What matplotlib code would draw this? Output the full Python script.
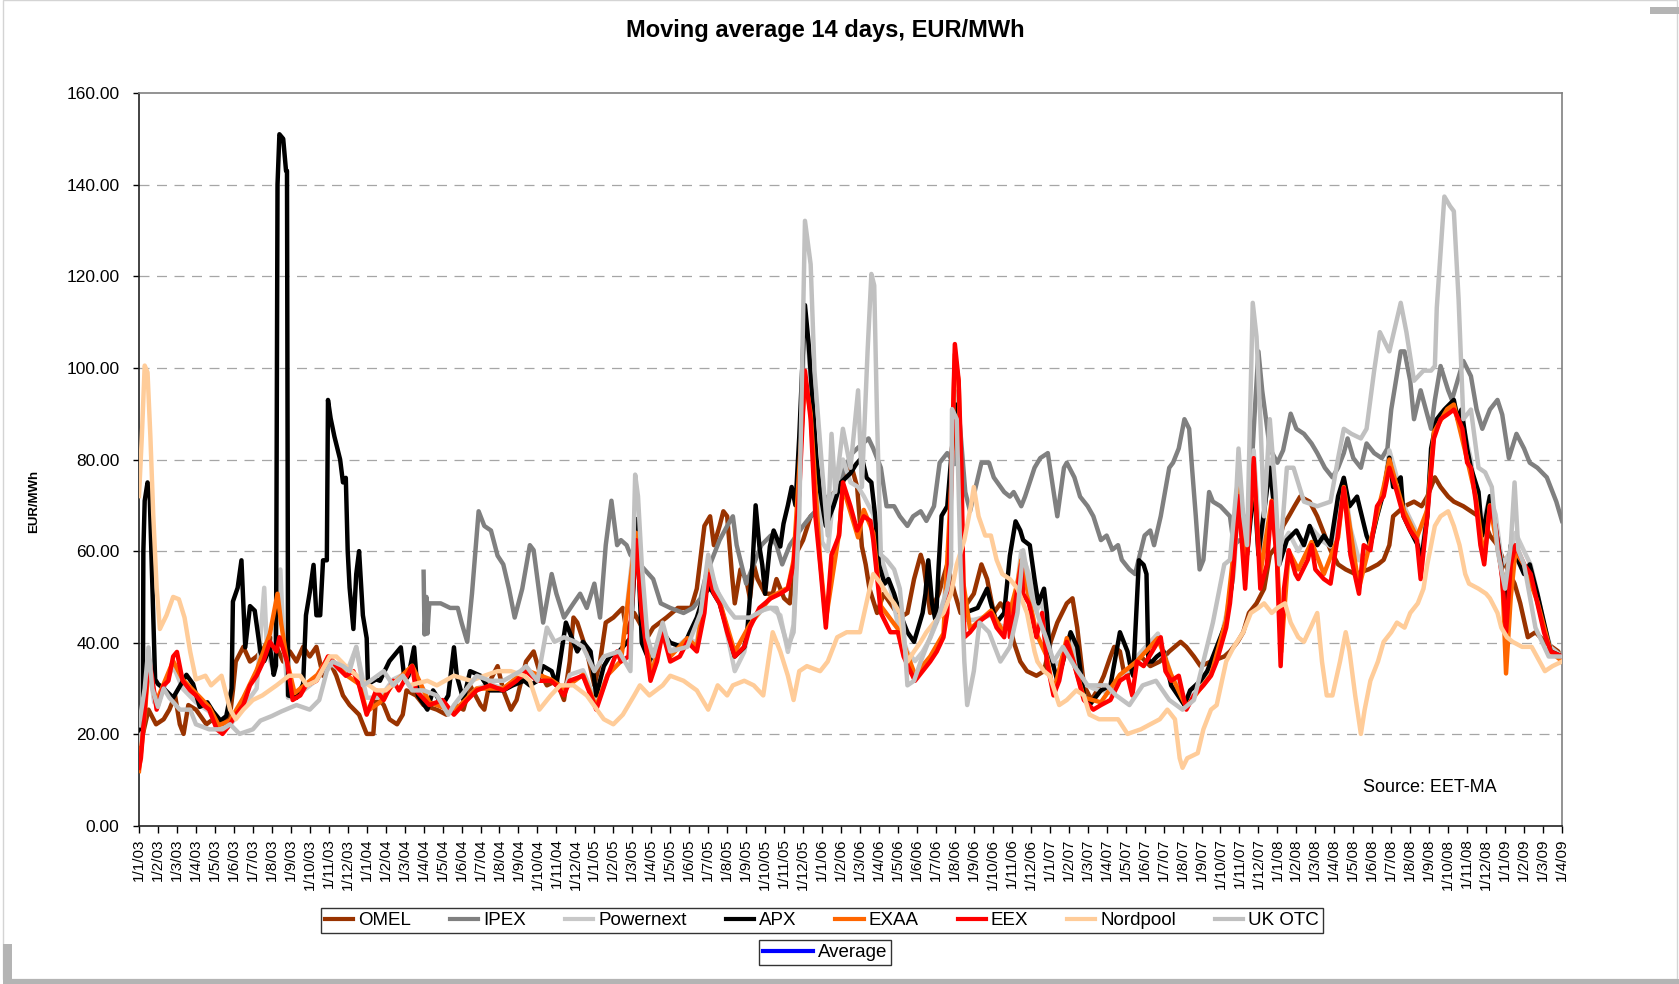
import matplotlib
matplotlib.use("Agg")
import matplotlib.pyplot as plt
from matplotlib.lines import Line2D
from matplotlib.patches import Rectangle

# ---------------- data (x = months since 1/1/03, y = EUR/MWh) ----------------
month_ticks = list(range(76))
tick_labels = [f"1/{i % 12 + 1}/{3 + i // 12:02d}" for i in month_ticks]

omel = [(0,16.9),(0.2,20),(0.5,25.4),(0.9,22.2),(1.3,23.3),(1.6,25.4),(1.9,28.5),(2.15,22.2),(2.35,20.1),(2.6,26.4),(3.0,25.4),(3.55,22.2),(3.9,23.3),(4.45,22.2),(4.8,24.3),(4.95,29.6),(5.1,35.9),(5.5,39.1),(5.85,35.9),(6.2,37),(6.55,38.6),(6.9,41.2),(7.25,39.1),(7.6,35.9),(7.95,38.1),(8.3,35.9),(8.65,39.1),(9.0,37),(9.35,39.1),(9.7,32.8),(10.05,35.9),(10.4,32.8),(10.75,28.5),(11.1,26.4),(11.6,24.3),(12.0,20.1),(12.35,20.1),(12.5,28.5),(12.9,26.4),(13.2,23.3),(13.6,22.2),(13.9,24.3),(14.1,29.6),(14.6,28.5),(15.0,26.4),(15.7,25.4),(16.2,24.3),(16.7,26.4),(17.1,25.4),(17.45,30.7),(18.0,26.4),(18.2,25.4),(18.5,31.7),(18.9,34.9),(19.2,29.6),(19.6,25.4),(19.9,27.5),(20.4,35.9),(20.8,38.1),(21.1,33.8),(21.5,30.7),(22.0,31.7),(22.4,27.5),(22.7,35.9),(22.9,45.5),(23.1,44.4),(23.6,38.1),(24.0,30.7),(24.3,35.9),(24.6,44.4),(25.0,45.5),(25.5,47.6),(25.7,42.3),(26.1,46.5),(26.8,41.2),(27.1,43.3),(27.8,45.5),(28.4,47.6),(29.1,47.6),(29.4,51.8),(29.8,65.5),(30.1,67.6),(30.3,61.3),(30.6,65.5),(30.8,68.7),(31.0,67.6),(31.25,55),(31.4,48.6),(31.7,56),(32.0,53.9),(32.2,49.7),(32.4,57.1),(32.6,53.9),(33.0,50.7),(33.4,50.7),(33.6,53.9),(34.0,49.7),(34.3,48.6),(34.6,59.2),(35.0,62.4),(35.4,67.6),(35.75,68.7),(36.1,69.8),(36.4,71.9),(37.0,74),(37.5,79.3),(37.85,74),(38.1,61),(38.3,57.1),(38.5,51.8),(38.9,46.5),(39.25,50.7),(39.6,48.6),(40.1,45.5),(40.5,46.5),(40.85,53.9),(41.2,59.2),(41.35,57.1),(41.7,46.5),(42.15,50.7),(42.6,57.1),(43.0,50.7),(43.3,46.5),(44.0,50.7),(44.4,57.1),(44.7,53.9),(45.05,46.5),(45.4,48.6),(45.75,46.5),(46.1,40.2),(46.45,35.9),(46.8,33.8),(47.3,32.8),(47.7,33.8),(48.05,40.2),(48.4,44.4),(48.9,48.6),(49.2,49.7),(49.45,43.3),(49.8,30.7),(50.2,27.5),(50.5,29.6),(50.85,32.8),(51.2,37),(51.4,39.1),(51.7,38.1),(51.9,33.8),(52.1,32.8),(52.4,35.9),(52.8,37),(53.3,34.9),(53.8,35.9),(54.3,38.1),(54.9,40.2),(55.2,39.1),(55.6,37),(55.95,34.9),(56.5,35.9),(57.2,37),(57.5,38.1),(57.9,40.2),(58.2,42.3),(58.5,46.5),(58.9,48.6),(59.3,51.8),(59.6,59.2),(60.0,61.3),(60.3,65.5),(60.6,67.6),(60.9,69.8),(61.2,71.9),(61.7,70.8),(62.1,67.6),(62.8,60.2),(63.2,57.1),(63.6,56),(64.1,55),(64.8,56),(65.3,57.1),(65.6,58.1),(65.9,61.3),(66.1,67.6),(66.7,69.8),(67.2,70.8),(67.6,69.8),(67.9,71.9),(68.3,76.1),(68.6,74),(69.0,71.9),(69.3,70.8),(69.8,69.8),(70.2,68.7),(70.6,67.6),(71.0,65.5),(71.2,63.4),(71.6,61.3),(72.0,57.1),(72.5,52.9),(72.8,48.6),(73.2,41.2),(73.6,42.3),(74.1,40.2),(74.8,38.1),(75.0,35.9)]

ipex = [(15.0,55.5),(15.05,41.8),(15.15,50),(15.2,42),(15.3,48.6),(15.5,48.6),(15.9,48.6),(16.4,47.6),(16.8,47.6),(17.0,44.4),(17.3,40.2),(17.55,50.7),(17.9,68.7),(18.2,65.5),(18.55,64.5),(18.9,59),(19.2,57.1),(19.5,51.8),(19.8,45.5),(20.2,51.8),(20.6,61.3),(20.8,60.2),(21.1,50.7),(21.3,44.4),(21.75,55),(22.0,50.7),(22.4,45.5),(22.9,48.6),(23.25,50.7),(23.6,47.6),(24.0,52.9),(24.3,45.5),(24.6,61.3),(24.9,71),(25.2,61.3),(25.4,62.4),(25.7,61.3),(25.9,59.2),(26.4,57.1),(27.1,53.9),(27.5,48.6),(28.0,47.6),(28.7,46.5),(29.2,47.6),(29.6,49.7),(29.9,55),(30.3,59.2),(30.6,62.4),(31.0,65.5),(31.3,67.6),(31.5,61.3),(32.0,52.9),(32.4,57.1),(32.8,61.3),(33.3,63.4),(33.6,61.3),(33.9,57.1),(34.3,61.3),(35.0,65.5),(35.4,67.6),(35.9,69.8),(36.3,71.9),(36.8,72.9),(37.2,78.2),(37.6,81.4),(37.85,82.4),(38.45,84.6),(38.7,82.4),(39.1,78.2),(39.4,69.8),(39.8,69.8),(40.1,67.6),(40.5,65.5),(40.8,67.6),(41.2,68.7),(41.5,66.6),(41.9,69.8),(42.2,79.3),(42.6,81.4),(43.0,79),(43.2,90.9),(43.55,72.9),(43.8,68.7),(44.4,79.3),(44.8,79.3),(45.05,76.1),(45.6,72.9),(45.9,71.9),(46.1,72.9),(46.5,69.8),(46.7,71.9),(47.2,78.2),(47.5,80.3),(47.9,81.4),(48.4,67.6),(48.75,78.2),(48.9,79.3),(49.3,76.1),(49.6,71.9),(50.0,69.8),(50.3,67.6),(50.7,62.4),(51.0,63.4),(51.3,60.3),(51.6,61.3),(51.8,58.1),(52.2,56),(52.5,55),(52.75,59.2),(53.0,63.4),(53.3,64.5),(53.5,61.3),(53.85,67.6),(54.3,78.2),(54.5,79.3),(54.8,82.4),(55.1,88.8),(55.35,86.7),(55.5,78.2),(55.7,67.6),(55.9,56),(56.1,58.1),(56.4,72.9),(56.6,70.8),(57.0,69.8),(57.5,67.6),(57.7,61.3),(58.0,62.4),(58.4,61.3),(58.6,75),(58.8,90),(59.0,103.6),(59.2,95),(59.4,88.8),(59.6,82.4),(60.0,79.3),(60.3,82),(60.7,90),(61.0,86.7),(61.4,85.6),(61.8,83.5),(62.1,81.4),(62.5,78.2),(62.9,76.1),(63.2,78.2),(63.5,81.4),(63.7,84.6),(64.0,80.3),(64.4,78.2),(64.7,83.5),(65.1,81.4),(65.5,80.3),(65.8,82.4),(66.0,90.9),(66.5,103.6),(66.7,103.6),(67.0,97.2),(67.2,88.8),(67.55,95.1),(67.9,89.8),(68.1,86.7),(68.3,93),(68.6,100.4),(69.0,95.1),(69.2,93),(69.8,101.5),(70.2,98.2),(70.5,90.9),(70.8,86.7),(71.2,90.9),(71.6,93),(71.85,89.8),(72.2,80.3),(72.6,85.6),(73.0,82.4),(73.3,79.3),(73.7,78.2),(74.2,76.1),(74.7,70.8),(75.0,66.6)]

powernext = [(0,18),(0.3,28),(0.5,36),(0.8,27),(1.3,30),(1.8,35),(2.3,30),(3.0,27),(3.7,25),(4.2,21),(4.8,22),(5.5,26),(6.2,30),(6.6,52),(6.75,38),(7.0,35),(7.25,46),(7.45,56),(7.6,42),(7.85,28),(8.5,29),(9.4,32),(9.96,36),(10.9,33),(11.45,39),(12.0,28),(12.7,28),(13.4,32),(14.4,34),(15.3,27),(16.6,25),(17.8,30),(18.5,31),(19.2,30),(20.4,34),(21.0,32),(21.7,32),(22.4,29),(22.7,33),(23.4,34),(24.1,27),(24.7,33),(25.4,36),(26.2,66),(26.5,48),(27.0,34),(27.6,43),(28.0,38),(28.9,41),(29.4,40),(30.0,57),(30.6,50),(31.4,33.8),(31.9,38),(32.2,44),(32.8,47),(33.3,47.6),(33.8,46),(34.2,38),(34.5,44),(34.8,74),(35.1,112),(35.4,98),(35.7,78),(36.0,62),(36.3,60),(36.6,72),(37.1,80),(37.5,75),(37.9,74),(38.2,72),(38.7,68),(39.1,59),(39.6,52),(40.0,44),(40.5,38),(40.9,36),(41.3,38),(41.7,41),(42.1,45),(42.4,48),(42.7,60),(43.0,95),(43.2,90),(43.4,55),(43.6,45),(44.0,45),(44.9,46),(45.3,44),(45.9,43),(46.3,53),(46.5,60),(46.9,55),(47.3,47),(47.6,49),(47.85,42),(48.2,35),(48.6,36),(49.1,41),(49.8,31),(50.3,30),(51.2,29),(51.7,33),(52.2,34),(52.6,37),(53.7,42),(54.4,33),(55.2,27),(56.1,31),(56.8,37),(57.3,46),(57.7,55),(57.95,72),(58.3,58),(58.75,82),(59.1,60),(59.6,80),(59.985,60),(60.3,62),(60.6,64),(61.1,60),(61.8,65),(62.45,62),(62.8,61),(63.2,67),(63.5,76),(63.85,65),(64.3,58),(64.9,62),(65.6,73),(65.9,82),(66.3,76),(66.65,70),(67.35,64),(67.55,57),(67.9,70),(68.25,86),(68.6,90),(69.3,92),(69.75,88),(70.2,80),(70.7,64),(71.2,72),(71.5,68),(71.85,57),(72.3,60),(72.55,64),(73.0,60),(73.35,57),(73.7,51),(74.05,44),(74.4,39),(75.0,37)]

apx = [(0,21),(0.2,22),(0.23,60),(0.3,71),(0.45,75),(0.55,74),(0.67,57),(0.85,32),(1.0,31),(1.3,30),(1.8,28),(2.5,33),(2.85,31),(3.2,26),(3.6,27),(3.9,25),(4.3,23),(4.6,24),(4.88,30),(4.95,49),(5.2,52),(5.4,58),(5.6,39),(5.85,48),(6.1,47),(6.4,38),(6.6,36),(6.9,39),(7.1,33),(7.22,35),(7.3,140),(7.4,151),(7.6,150),(7.75,143),(7.8,143),(7.86,28.5),(8.3,28),(8.65,31),(8.8,46),(9.0,51),(9.2,57),(9.35,46),(9.55,46),(9.7,58),(9.9,58),(9.96,93),(10.1,89),(10.3,85),(10.6,80),(10.75,75),(10.9,76),(11.0,60),(11.1,52),(11.3,43),(11.45,55),(11.6,60),(11.8,46),(12.0,41),(12.07,31),(12.5,32),(12.7,31.7),(13.2,36),(13.6,38),(13.8,39),(14.0,31.7),(14.2,32.8),(14.4,37),(14.5,39),(14.7,28.5),(15.2,25.4),(15.5,29.6),(16.0,26.4),(16.3,28.5),(16.6,39),(16.75,32.8),(17.1,27.5),(17.45,33.8),(18.0,32.8),(18.5,29.6),(19.2,29.6),(19.7,30.7),(20.3,31.7),(20.6,30.7),(21.0,31.7),(21.3,34.9),(21.75,33.8),(22.0,30.7),(22.5,44.4),(22.8,41.2),(23.1,38.1),(23.4,40.2),(23.8,38.1),(24.1,28.5),(24.5,34.9),(24.8,37),(25.3,38.1),(25.9,41),(26.1,55),(26.2,67),(26.35,55),(26.5,40),(26.9,36),(27.65,42),(28.0,40),(28.7,39),(29.0,42),(29.4,45.5),(29.8,50.7),(30.1,52),(30.6,48.6),(30.9,44.4),(31.4,37),(31.9,39),(32.05,42),(32.35,58),(32.5,70),(32.7,61),(32.85,57),(33.0,50.7),(33.25,61),(33.45,64.5),(33.8,61),(33.97,66),(34.2,70),(34.4,74),(34.6,70),(34.8,85),(35.1,113.7),(35.3,105),(35.7,80.4),(35.9,73),(36.2,65.5),(36.6,69.8),(37.0,75),(37.5,77),(37.8,79),(38.1,80.4),(38.35,76),(38.6,75),(38.8,67.7),(39.0,57),(39.3,52.9),(39.5,53.9),(39.8,50.7),(40.1,46.5),(40.5,42.3),(40.85,40.2),(41.0,42.3),(41.3,46.5),(41.45,50.7),(41.6,58),(41.8,48.6),(42.0,44.4),(42.15,57),(42.3,67.7),(42.6,69.8),(42.9,85),(43.05,92),(43.25,80),(43.4,55),(43.5,46.5),(44.2,47.6),(44.7,51.8),(44.9,48.6),(45.2,44.4),(45.6,46.5),(45.9,59),(46.2,66.5),(46.45,64.5),(46.6,62.4),(46.95,61.3),(47.2,53.9),(47.4,48.6),(47.7,51.8),(47.85,46.5),(48.0,38.1),(48.4,31.7),(48.7,35.9),(49.1,42.3),(49.45,39.1),(49.8,28.5),(50.1,26.4),(50.7,29.6),(51.2,30.7),(51.7,42.3),(52.1,38.1),(52.25,34.9),(52.4,32.8),(52.7,58),(52.95,57),(53.1,55),(53.2,35.9),(53.4,35.9),(53.65,37),(54.0,38.1),(54.4,30.7),(55.1,26.4),(55.4,29.6),(55.95,31.7),(56.3,33.8),(56.8,39.1),(57.3,44.4),(57.6,52.9),(57.9,75),(58.2,67.6),(58.4,59.2),(58.6,67.6),(58.75,76.1),(59.0,59.2),(59.6,78.2),(59.8,70.8),(60.1,57.1),(60.5,62.4),(61.0,64.5),(61.4,61.3),(61.7,65.5),(62.1,61.3),(62.45,63.4),(62.8,61.3),(63.2,72),(63.5,76),(63.8,69.8),(64.2,71.9),(64.7,63.4),(64.9,61.3),(65.25,67.6),(65.6,72.9),(65.9,80.4),(66.1,74),(66.5,76.1),(66.65,67.6),(67.0,64.5),(67.4,61.3),(67.55,57.1),(67.9,67.6),(68.1,82.4),(68.4,88.8),(68.8,90.9),(69.3,93),(69.5,88.8),(69.7,90.9),(70.0,82.4),(70.2,78.2),(70.6,72.9),(70.8,63.4),(71.0,67.6),(71.2,72),(71.4,67.6),(71.8,57.1),(72.0,46.5),(72.3,61.3),(72.55,59.2),(73.0,55),(73.3,57.1),(73.7,50.7),(74.05,44.4),(74.4,38.1),(75.0,37)]

exaa = [(0,12),(0.3,24),(0.5,35),(0.9,27),(1.3,31),(1.8,36),(2.3,32),(3.0,29),(3.7,26),(4.2,22),(4.8,23),(5.5,28),(6.2,34),(6.9,42),(7.3,50.7),(7.5,44),(7.8,36),(8.2,29),(8.8,31),(9.4,33),(10.0,37),(10.9,33),(11.6,31),(12.0,25),(12.7,27),(13.4,31),(14.4,35),(15.3,27),(16.6,25),(17.8,30),(19.2,30),(20.4,34),(21.7,32),(22.4,30),(23.4,33),(24.1,26),(24.7,33),(25.4,36),(26.2,64),(26.5,47),(27.0,33),(27.6,42),(28.0,37),(28.9,41),(29.4,39),(30.0,56),(30.6,49),(31.4,38),(32.2,44),(33.3,50),(34.2,52),(34.5,58),(35.1,98),(35.4,90),(35.9,58),(36.2,45),(36.9,64),(37.1,74),(37.9,63),(38.2,69),(38.7,64),(39.1,48),(40.0,43),(40.9,33),(41.7,37),(42.4,42),(42.8,74),(43.0,103),(43.2,97),(43.45,53),(43.8,43),(44.9,47),(45.6,42),(46.3,53),(46.5,58),(47.3,42),(47.85,37),(48.2,29),(48.9,41),(49.8,28),(50.7,27),(51.7,33),(52.6,36),(53.7,41),(54.4,33),(55.2,26),(56.5,33),(57.3,45),(57.7,60),(57.95,76),(58.3,56),(58.75,78),(59.1,55),(59.7,71),(60.0,58),(60.2,38),(60.6,60),(61.1,56),(61.8,62),(62.45,55),(63.2,63),(63.5,74),(64.3,52),(64.9,62),(65.6,74),(65.9,80),(66.65,69),(67.35,63),(67.9,69),(68.25,86),(68.95,91),(69.3,92),(70.0,80),(70.45,72),(70.9,58),(71.2,70),(71.85,55),(72.05,33.3),(72.3,50),(72.55,60),(73.0,57),(73.7,49),(74.4,38),(75.0,36)]

eex = [(0,12.7),(0.1,14.8),(0.3,25),(0.5,37),(0.67,33),(0.93,25.4),(1.3,30.7),(1.55,31.7),(1.8,37),(2.0,38),(2.3,31.7),(2.7,29.6),(3.0,28.5),(3.4,26.4),(3.7,25.4),(4.1,21.1),(4.4,20.1),(4.8,22.2),(5.1,24.3),(5.5,26.4),(5.85,30.7),(6.2,32.8),(6.55,35.9),(6.9,40.2),(7.25,38.1),(7.4,41.2),(7.8,35.9),(8.1,27.5),(8.5,28.5),(8.8,30.7),(9.35,31.7),(9.6,33.8),(9.96,37),(10.4,34.9),(10.9,32.8),(11.3,33.8),(11.6,30.7),(12.0,24.3),(12.3,27.5),(12.5,29.6),(12.9,27.5),(13.4,31.7),(13.7,29.6),(14.4,34.9),(14.6,29.6),(15.3,26.4),(16.0,27.5),(16.6,24.3),(17.3,27.5),(17.8,29.6),(18.5,30.7),(19.2,29.6),(19.9,31.7),(20.4,33.8),(21.0,31.7),(21.7,31.7),(22.0,30.7),(22.4,28.5),(22.7,31.7),(23.4,32.8),(24.1,25.4),(24.7,32.8),(25.2,38.1),(25.4,35.9),(25.8,37),(26.2,62.4),(26.5,46.5),(26.96,31.7),(27.3,35.9),(27.6,42.3),(28.0,35.9),(28.5,37),(28.9,40.2),(29.4,38.1),(29.8,46.5),(30.0,55),(30.3,50.7),(30.6,48.6),(31.0,42.3),(31.4,37),(31.9,39.1),(32.2,43.3),(32.7,47.6),(33.3,49.7),(33.8,50.7),(34.2,51.8),(34.5,57.1),(34.8,72.9),(35.1,99.4),(35.4,88.8),(35.65,67.6),(35.9,57.1),(36.2,43.3),(36.5,59.2),(36.9,63.4),(37.1,75),(37.5,69.8),(37.85,64.5),(38.2,67.6),(38.55,66.6),(38.7,62.4),(39.1,46.5),(39.6,42.3),(40.0,42.3),(40.3,37),(40.65,33.8),(40.9,31.7),(41.3,33.8),(41.7,35.9),(42.05,38.1),(42.4,41.2),(42.6,46.5),(42.8,72.9),(43.0,105.2),(43.2,97.2),(43.35,78.2),(43.45,51.8),(43.5,41.2),(43.8,42.3),(44.2,44.4),(44.9,46.5),(45.2,43.3),(45.6,41.2),(45.8,48.6),(45.9,41.2),(46.3,51.8),(46.5,57.1),(46.6,50.7),(46.9,48.6),(47.3,41.2),(47.6,46.5),(47.85,35.9),(48.2,28.5),(48.5,31.7),(48.9,40.2),(49.25,35.9),(49.8,27.5),(50.3,25.4),(50.7,26.4),(51.2,27.5),(51.7,31.7),(52.1,32.8),(52.35,28.5),(52.6,35.9),(52.95,34.9),(53.7,40.2),(53.85,41.2),(54.1,33.8),(54.4,31.7),(54.8,32.8),(55.2,25.4),(55.6,28.5),(56.1,30.7),(56.5,32.8),(56.8,35.9),(57.3,43.3),(57.5,48.6),(57.7,57.1),(57.95,72),(58.3,51.8),(58.75,80.3),(59.1,51.8),(59.45,57.1),(59.7,70.8),(59.985,57.1),(60.17,34.9),(60.35,51.8),(60.6,60.2),(60.95,55),(61.1,53.9),(61.6,58.1),(61.8,61.3),(62.0,56),(62.45,53.9),(62.8,52.9),(63.15,62.4),(63.5,73.8),(63.85,59.2),(64.3,50.7),(64.55,61.3),(64.9,60.2),(65.25,69.8),(65.6,72),(65.9,78.2),(66.3,72.9),(66.65,67.6),(67.0,64.5),(67.35,62.4),(67.55,53.9),(67.9,67.6),(68.25,84.6),(68.6,88.8),(68.95,89.8),(69.3,90.9),(69.55,88.8),(69.75,86.7),(70.0,79.3),(70.2,78.2),(70.45,71),(70.7,61.3),(70.9,57.1),(71.2,69.8),(71.5,65.5),(71.85,53.9),(72.05,42.3),(72.3,57.1),(72.55,61.3),(73.0,57.1),(73.35,55),(73.7,48.6),(74.05,42.3),(74.4,38.1),(75.0,37)]

nordpool = [(0,72),(0.15,85),(0.3,100.5),(0.45,99),(0.6,85),(0.75,68),(0.93,52),(1.1,43),(1.45,46),(1.8,50),(2.1,49.5),(2.4,45.5),(2.7,38),(3.0,32),(3.5,32.8),(3.8,30.7),(4.35,32.8),(4.8,25.4),(5.1,23.3),(5.5,25.4),(6.0,27.5),(6.5,28.5),(7.25,30.7),(7.9,32.8),(8.5,32.8),(8.85,30.7),(9.35,31.7),(10.05,37),(10.4,37),(10.9,34.9),(11.8,31.7),(12.5,29.6),(13.0,29.6),(13.9,32.8),(14.25,30.7),(15.2,31.7),(15.7,30.7),(16.6,32.8),(17.5,31.7),(18.2,32.8),(18.9,33.8),(19.6,33.8),(20.3,32.8),(20.6,31.7),(21.1,25.4),(21.7,28.5),(22.2,30.7),(22.9,30.7),(23.6,28.5),(24.5,23.3),(25.0,22.2),(25.5,24.3),(26.1,28.5),(26.4,30.7),(26.9,28.5),(27.6,30.7),(28.0,32.8),(28.7,31.7),(29.4,29.6),(30.0,25.4),(30.3,28.5),(30.5,30.7),(31.0,28.5),(31.3,30.7),(31.9,31.7),(32.4,30.7),(32.9,28.5),(33.4,42.3),(33.8,38.1),(34.2,32.8),(34.5,27.5),(34.8,33.8),(35.2,34.9),(35.9,33.8),(36.3,35.9),(36.8,41.2),(37.3,42.3),(38.0,42.3),(38.45,50.7),(38.7,55),(39.1,52.9),(39.4,50.7),(39.8,48.6),(40.1,46.5),(40.3,40.2),(40.5,35.9),(40.85,38.1),(41.2,40.2),(41.5,42.3),(41.9,44.4),(42.4,46.5),(42.8,50.7),(43.1,57.1),(43.5,62.4),(43.85,70),(44.0,74),(44.25,67.6),(44.6,63.4),(44.9,63.4),(45.2,58.1),(45.5,55),(45.9,53.9),(46.3,51.8),(46.6,48.6),(46.8,46.5),(47.2,38.1),(47.35,35.9),(47.7,33.8),(48.0,32.8),(48.5,26.4),(48.9,27.5),(49.4,29.6),(49.8,28.5),(50.1,24.3),(50.6,23.3),(51.6,23.3),(52.1,20.1),(52.8,21.1),(53.8,23.3),(54.2,25.4),(54.6,23.3),(54.85,14.8),(55.0,12.7),(55.25,14.8),(55.8,15.9),(56.1,21.1),(56.5,25.4),(56.8,26.4),(57.3,35.9),(57.7,39.1),(58.2,42.3),(58.6,46.5),(59.0,47.6),(59.3,48.6),(59.7,46.5),(60.0,47.6),(60.4,48.6),(60.7,44.4),(61.1,41.2),(61.4,40.2),(61.75,43.3),(62.1,46.5),(62.35,35.9),(62.6,28.5),(62.9,28.5),(63.3,35.9),(63.6,42.3),(63.8,38.1),(64.1,28.5),(64.4,20.1),(64.6,25.4),(64.9,31.7),(65.3,35.9),(65.6,40.2),(66.0,42.3),(66.3,44.4),(66.7,43.3),(67.0,46.5),(67.4,48.6),(67.7,51.8),(67.9,57.1),(68.3,65.5),(68.6,67.6),(69.0,68.7),(69.3,65.5),(69.6,61.3),(69.9,55),(70.1,52.9),(70.6,51.8),(71.0,50.7),(71.2,49.7),(71.6,46.5),(71.8,43.3),(72.1,41.2),(72.4,40.2),(72.9,39.1),(73.4,39.1),(74.1,33.8),(74.5,34.9),(75.0,35.9)]

uk_otc = [(0,22),(0.3,30),(0.5,39),(0.7,30),(1.0,26),(1.3,30),(1.6,28),(2.15,25.4),(2.7,25.4),(3.0,22.2),(3.7,21.1),(4.4,21.1),(4.8,22.2),(5.3,20.1),(6.0,21.1),(6.4,23),(7.0,24),(7.5,25),(8.3,26.4),(9.0,25.4),(9.5,27.5),(9.9,33.8),(10.2,35.9),(10.75,34.9),(11.1,33.8),(11.45,39.1),(11.8,30.7),(12.2,31.7),(12.9,33.8),(13.4,30.7),(13.9,32.8),(14.4,29.6),(15.0,29.6),(15.7,28.5),(16.3,24.3),(16.6,26.4),(17.8,32.8),(18.5,31.7),(19.2,31.7),(20.1,33.8),(20.4,34.9),(21.0,31.7),(21.5,43.3),(21.9,40.2),(22.4,41.2),(23.0,40.2),(23.4,39.1),(24.0,33.8),(24.5,37),(25.3,38.1),(25.9,33.8),(26.15,76.7),(26.3,72),(26.5,57),(26.8,41.2),(27.1,37),(27.6,44.4),(28.0,38.1),(28.9,39.1),(29.6,46.5),(30.0,59.2),(30.4,51.8),(31.0,47.6),(31.4,45.5),(32.2,45.5),(33.1,47.6),(33.6,47.6),(34.2,39.1),(34.5,42.3),(34.8,67.6),(35.1,132.1),(35.4,122.6),(35.6,99.4),(36.0,78.2),(36.3,63.4),(36.5,85.6),(36.7,72.9),(37.1,86.7),(37.5,78.2),(37.9,95.1),(38.1,74),(38.4,103.6),(38.6,120.5),(38.75,118),(38.9,88.8),(39.1,59.2),(39.4,58.1),(39.8,56),(40.1,51.8),(40.3,43.3),(40.5,30.7),(40.85,31.7),(41.2,35.9),(41.7,41.2),(42.2,46.5),(42.6,51.8),(42.8,57.1),(42.85,91),(43.1,88.8),(43.3,57),(43.5,35.9),(43.65,26.4),(44.0,33.8),(44.3,44.4),(44.8,42.3),(45.4,35.9),(45.9,39.1),(46.3,46.5),(46.6,60.2),(47.0,50.7),(47.5,44.4),(47.8,41.2),(48.2,35.9),(48.7,39.1),(49.3,34.9),(50.0,30.7),(51.0,30.7),(51.5,28.5),(52.2,26.4),(52.9,30.7),(53.6,31.7),(54.3,27.5),(55.0,25.4),(55.6,27.5),(56.1,35.9),(56.6,44.4),(57.2,57.1),(57.5,58.1),(57.85,74),(57.95,82.4),(58.2,67.6),(58.4,61.3),(58.7,114.2),(58.9,106.8),(59.1,88.8),(59.3,67.6),(59.6,88.8),(59.9,72.9),(60.1,57.1),(60.5,78.2),(60.85,78.2),(61.4,70.8),(62.1,69.8),(62.8,70.8),(63.2,80.3),(63.5,86.7),(63.9,85.6),(64.4,84.6),(64.7,86.7),(65.1,99.4),(65.4,107.8),(65.9,103.6),(66.5,114.2),(66.8,107.8),(67.2,97.2),(67.7,99.4),(68.1,99.4),(68.3,100.4),(68.4,113.1),(68.8,137.4),(69.1,135.3),(69.3,134.2),(69.55,115),(69.8,88.8),(70.2,90.9),(70.6,78.2),(70.95,77.2),(71.3,74),(71.6,60.2),(72.0,51.8),(72.3,61.3),(72.5,75),(72.7,60.2),(73.0,57.1),(73.6,43.3),(74.3,37),(75.0,37)]

series_names = ["OMEL", "IPEX", "Powernext", "APX", "EXAA", "EEX", "Nordpool", "UK OTC"]
series_data = [omel, ipex, powernext, apx, exaa, eex, nordpool, uk_otc]
series_colors = ["#993300", "#808080", "#C8C8C8", "#000000", "#FF6600", "#FF0000", "#FFCC99", "#C0C0C0"]
average_name = "Average"
average_color = "#0000FF"

# ---------------- figure ----------------
W, H = 1679, 984
plt.rcParams["font.family"] = ["Liberation Sans", "DejaVu Sans"]
fig = plt.figure(figsize=(W / 100, H / 100), dpi=100)

# chart-area frame and shadow (pixel coordinates)
def px_rect(x0, y0, x1, y1, **kw):
    fig.patches.append(Rectangle((x0 / W, 1 - y1 / H), (x1 - x0) / W, (y1 - y0) / H,
                                 transform=fig.transFigure, zorder=-5, **kw))

px_rect(3, 0, 1677, 979, facecolor="none", edgecolor="#D4D4D4", lw=1.0)
px_rect(1650, 7, 1679, 14, facecolor="#B4B4B4", edgecolor="none")
px_rect(3, 944, 12, 984, facecolor="#B4B4B4", edgecolor="none")
px_rect(3, 979, 1679, 984, facecolor="#B4B4B4", edgecolor="none")

ax = fig.add_axes([139 / W, 1 - 826 / H, (1562 - 139) / W, (826 - 93) / H])
ax.set_facecolor("none")

for name, data, color in zip(series_names, series_data, series_colors):
    xs, ys = zip(*data)
    ax.plot(xs, ys, color=color, lw=3.2, solid_joinstyle="round", label=name, zorder=3)

ax.set_xlim(0, 75)
ax.set_ylim(0, 160)

ax.set_yticks(range(0, 161, 20))
ax.set_yticklabels([f"{v:.2f}" for v in range(0, 161, 20)], fontsize=12.5)
ax.set_xticks(month_ticks)
ax.set_xticklabels(tick_labels, rotation=90, fontsize=11, va="top", ha="center")
ax.tick_params(axis="y", direction="out", length=4, width=1, pad=10, colors="black")
ax.tick_params(axis="x", direction="out", length=5, width=1, pad=4, colors="black")

for v in range(20, 160, 20):
    ax.axhline(v, color="#A6A6A6", lw=0.9, ls=(0, (8, 6)), zorder=1)

for side in ("top", "right"):
    ax.spines[side].set_color("#808080")
    ax.spines[side].set_linewidth(1.2)
for side in ("left", "bottom"):
    ax.spines[side].set_color("#222222")
    ax.spines[side].set_linewidth(1.2)

ax.text((1430 - 139) / (1562 - 139), (826 - 787) / (826 - 93), "Source: EET-MA",
        transform=ax.transAxes, ha="center", va="center", fontsize=13)

fig.text(825 / W, 1 - 30 / H, "Moving average 14 days, EUR/MWh", ha="center", va="center",
         fontsize=17, fontweight="bold")
fig.text(34 / W, 1 - 501 / H, "EUR/MWh", rotation=90, ha="center", va="center",
         fontsize=9.5, fontweight="bold")

handles = [Line2D([], [], color=c, lw=3) for c in series_colors]
leg1 = fig.legend(handles, series_names, loc="center", bbox_to_anchor=(822 / W, 1 - 920.5 / H),
                  ncol=8, frameon=True, fancybox=False, edgecolor="black", fontsize=13.5,
                  handlelength=1.5, handletextpad=0.25, columnspacing=2.1, borderpad=0.2,
                  borderaxespad=0)
leg1.get_frame().set_linewidth(1.0)
leg2 = fig.legend([Line2D([], [], color=average_color, lw=3)], [average_name], loc="center",
                  bbox_to_anchor=(825 / W, 1 - 952.5 / H), frameon=True, fancybox=False,
                  edgecolor="black", fontsize=13.5, handlelength=2.7, handletextpad=0.25,
                  borderpad=0.2, borderaxespad=0)
leg2.get_frame().set_linewidth(1.0)

fig.savefig("out.png", dpi=100)
